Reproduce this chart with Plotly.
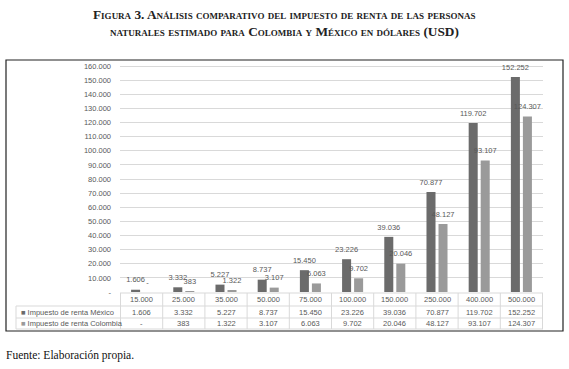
import plotly.graph_objects as go

categories = ["15.000", "25.000", "35.000", "50.000", "75.000", "100.000",
              "150.000", "250.000", "400.000", "500.000"]
mexico = [1606, 3332, 5227, 8737, 15450, 23226, 39036, 70877, 119702, 152252]
colombia = [0, 383, 1322, 3107, 6063, 9702, 20046, 48127, 93107, 124307]
series_names = ["Impuesto de renta México", "Impuesto de renta Colombia"]
tick_values = list(range(0, 160001, 10000))
tick_labels = ["-"] + [f"{v:,}".replace(",", ".") for v in tick_values[1:]]

C_MEX = "#6b6b6b"
C_COL = "#9a9a9a"
TXT = "#595959"
GRID = "#d9d9d9"
W, H = 569, 369
L, R, T, B = 120, 543, 64, 292
FS = 7.5
GAP = 0.43


def fmt(v):
    return "-" if v == 0 else f"{v:,}".replace(",", ".")


def px(x):
    return (x - L) / (R - L)


def py(y):
    return (B - y) / (B - T)


ymax = 160000 * (B - T) / (B - 66)

fig = go.Figure()
for name, vals, col in [(series_names[0], mexico, C_MEX), (series_names[1], colombia, C_COL)]:
    fig.add_trace(go.Bar(
        x=categories, y=vals, name=name, marker=dict(color=col, line=dict(width=0)),
        hoverinfo="x+y",
    ))
for name, vals in [(series_names[0], mexico), (series_names[1], colombia)]:
    fig.add_trace(go.Scatter(
        x=categories, y=vals, name=name, mode="markers+text",
        marker=dict(size=7, color="rgba(0,0,0,0)"),
        text=[fmt(v) for v in vals], textposition="top center", cliponaxis=False,
        textfont=dict(size=FS, color=TXT, family="Liberation Sans"),
        hoverinfo="skip",
    ))

shapes = []
shapes.append(dict(type="rect", xref="paper", yref="paper", x0=px(6), x1=px(563),
                   y0=py(331), y1=py(60), line=dict(color="#222222", width=1.2)))
shapes.append(dict(type="line", xref="paper", yref="paper", x0=px(L), x1=px(R),
                   y0=py(293), y1=py(293), line=dict(color=GRID, width=1)))
for yy in [306, 318, 329]:
    shapes.append(dict(type="line", xref="paper", yref="paper", x0=px(16), x1=px(R),
                       y0=py(yy), y1=py(yy), line=dict(color=GRID, width=1)))
shapes.append(dict(type="line", xref="paper", yref="paper", x0=px(16), x1=px(16),
                   y0=py(306), y1=py(329), line=dict(color=GRID, width=1)))
for i in range(len(categories) + 1):
    shapes.append(dict(type="line", xref="x", yref="paper", x0=i - 0.5, x1=i - 0.5,
                       y0=py(293), y1=py(329), line=dict(color=GRID, width=1)))

ann = []
rows = [(299.5, categories), (312, [fmt(v) for v in mexico]), (323.5, [fmt(v) for v in colombia])]
for yy, texts in rows:
    for i, t in enumerate(texts):
        ann.append(dict(xref="x", yref="paper", x=i, y=py(yy), text=t, showarrow=False,
                        font=dict(size=FS, color=TXT, family="Liberation Sans"),
                        xanchor="center", yanchor="middle"))
for yy, name, col in [(312, series_names[0], C_MEX), (323.5, series_names[1], C_COL)]:
    ann.append(dict(xref="paper", yref="paper", x=px(19), y=py(yy),
                    text=f"<span style='color:{col}'>■</span> {name}", showarrow=False,
                    font=dict(size=FS, color=TXT, family="Liberation Sans"),
                    xanchor="left", yanchor="middle"))
ann.append(dict(xref="paper", yref="paper", x=px(284), y=py(14),
                text="<b>Figura 3. Análisis comparativo del impuesto de renta de las personas</b>",
                showarrow=False, xanchor="center", yanchor="middle",
                font=dict(size=13.3, color="#222222", family="Liberation Serif", variant="small-caps")))
ann.append(dict(xref="paper", yref="paper", x=px(284), y=py(31),
                text="<b>naturales estimado para Colombia y México en dólares (USD)</b>",
                showarrow=False, xanchor="center", yanchor="middle",
                font=dict(size=13.3, color="#222222", family="Liberation Serif", variant="small-caps")))
ann.append(dict(xref="paper", yref="paper", x=px(4), y=py(355),
                text="Fuente: Elaboración propia.", showarrow=False, xanchor="left", yanchor="middle",
                font=dict(size=11.5, color="#111111", family="Liberation Serif")))

fig.update_layout(
    width=W, height=H, margin=dict(l=L, r=W - R, t=T, b=H - B),
    paper_bgcolor="white", plot_bgcolor="white",
    barmode="group", bargap=GAP, bargroupgap=0.25,
    scattermode="group", scattergap=GAP,
    showlegend=False, shapes=shapes, annotations=ann,
    font=dict(family="Liberation Sans", size=FS, color=TXT),
    xaxis=dict(showticklabels=False, showgrid=False, zeroline=False, showline=False, ticks=""),
    yaxis=dict(range=[0, ymax], tickvals=tick_values, ticktext=tick_labels,
               showgrid=True, gridcolor=GRID, gridwidth=1, zeroline=False, showline=False,
               tickfont=dict(size=FS, color=TXT), ticklabelstandoff=8),
)

fig.write_html("out.html", config={"displayModeBar": False},
               post_script="document.body.style.margin='0';document.body.style.overflow='hidden';")
